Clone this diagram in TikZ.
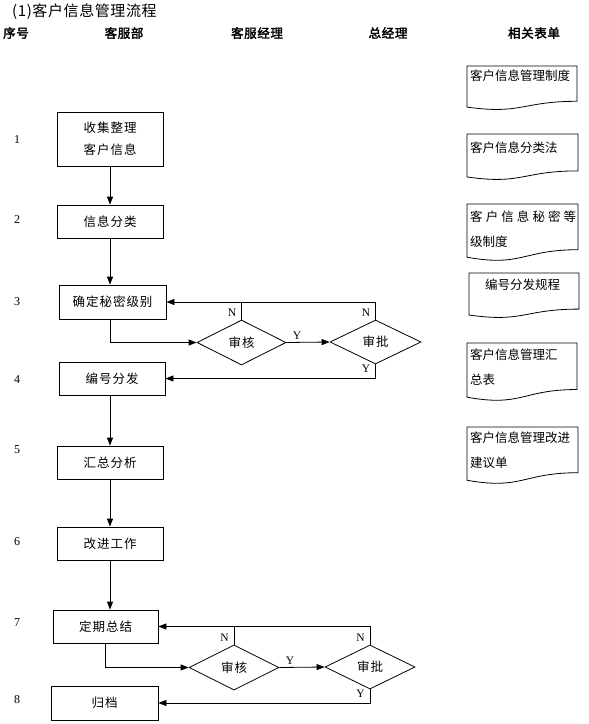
\documentclass[tikz,border=0pt]{standalone}
\usepackage{fontspec}
\setmainfont{Noto Sans CJK SC}
\newfontfamily\hdfont[FakeBold=2.5,LetterSpace=5]{Noto Sans CJK SC}
\newfontfamily\boxfont[LetterSpace=8]{Noto Sans CJK SC}
\newfontfamily\titlefont[LetterSpace=4]{Noto Sans CJK SC}
\newfontfamily\serf{Liberation Serif}
\usetikzlibrary{shapes.geometric,arrows.meta}
\tikzset{
 stepbox/.style={draw, line width=0.8pt, inner sep=0pt, font=\boxfont\fontsize{12.5}{22}\selectfont, align=center},
 dec/.style={draw, diamond, line width=0.8pt, inner sep=0pt, font=\boxfont\fontsize{12.5}{15}\selectfont},
 arr/.style={line width=0.8pt, -{Triangle[length=8pt,width=6pt]}},
 ln/.style={line width=0.8pt},
 yn/.style={font=\serf\fontsize{11.5}{12}\selectfont, inner sep=1pt},
 num/.style={font=\serf\fontsize{12}{12}\selectfont, inner sep=0pt},
 hd/.style={font=\hdfont\fontsize{12.5}{14}\selectfont, inner sep=0pt},
 docln/.style={line width=0.8pt},
 doctext/.style={anchor=west, inner sep=0pt, font=\fontsize{12.5}{25}\selectfont, align=left},
}
\newcommand\docshape[4]{%
 \draw[docln] ({#1},{#2}) -- ({#3},{#2}) -- ({#3},{#2+0.802*#4})
  .. controls ({(#1+#3)/2},{#2+0.802*#4}) and ({(#1+#3)/2},{#2+1.107*#4}) .. ({#1},{#2+0.934*#4}) -- cycle;}
\begin{document}
\begin{tikzpicture}[x=1pt,y=-1pt]
\useasboundingbox (0,0) rectangle (589,724);
% title and headers
\node[anchor=west, inner sep=0pt, font=\titlefont\fontsize{15}{16}\selectfont] (title) at (12,12) {(1)客户信息管理流程};
\node[hd] (h1) at (16,33) {序号};
\node[hd] (h2) at (124,33) {客服部};
\node[hd] (h3) at (257,33) {客服经理};
\node[hd] (h4) at (388,33) {总经理};
\node[hd] (h5) at (534,33) {相关表单};
% row numbers
\node[num] (n1) at (17,140) {1};
\node[num] (n2) at (17,220) {2};
\node[num] (n3) at (17,302) {3};
\node[num] (n4) at (17,380) {4};
\node[num] (n5) at (17,450) {5};
\node[num] (n6) at (17,542) {6};
\node[num] (n7) at (17,623) {7};
\node[num] (n8) at (17,700) {8};
% process boxes
\node[stepbox, minimum width=106pt, minimum height=54pt] (b1) at (110,139) {收集整理\\客户信息};
\node[stepbox, minimum width=106pt, minimum height=33pt] (b2) at (110,221.5) {信息分类};
\node[stepbox, minimum width=107pt, minimum height=34pt] (b3) at (112.5,302) {确定秘密级别};
\node[stepbox, minimum width=106pt, minimum height=33pt] (b4) at (112,378.5) {编号分发};
\node[stepbox, minimum width=106pt, minimum height=33pt] (b5) at (110,462.5) {汇总分析};
\node[stepbox, minimum width=106pt, minimum height=33pt] (b6) at (110,543.5) {改进工作};
\node[stepbox, minimum width=105pt, minimum height=33pt] (b7) at (105.5,626.5) {定期总结};
\node[stepbox, minimum width=107pt, minimum height=34pt] (b8) at (104.5,703) {归档};
% decisions
\node[dec, minimum width=89pt, minimum height=45pt] (d1) at (241.5,342.5) {审核};
\node[dec, minimum width=91pt, minimum height=44pt] (d2) at (375.5,342) {审批};
\node[dec, minimum width=90pt, minimum height=45pt] (d3) at (234,667.5) {审核};
\node[dec, minimum width=90pt, minimum height=44pt] (d4) at (370,667) {审批};
% vertical flow
\draw[arr] (b1.south) -- (b2.north);
\draw[arr] (b2.south) -- (b2.south |- b3.north);
\draw[arr] (b4.south -| b5.north) -- (b5.north);
\draw[arr] (b5.south) -- (b6.north);
\draw[arr] (b6.south) -- (b6.south |- b7.north);
% upper review loop
\draw[arr] (b3.south -| 110,0) |- (d1.west);
\draw[arr] (d1.east) -- (d2.west) node[yn, pos=0, anchor=south west, xshift=5pt, yshift=2pt] {Y};
\draw[ln] (d1.north) -- (d1.north |- b3.east);
\draw[arr] (d2.north) |- (b3.east);
\node[yn, anchor=south east, xshift=-4pt, yshift=2pt] (nl1) at (d1.north) {N};
\node[yn, anchor=south east, xshift=-4pt, yshift=2pt] (nl2) at (d2.north) {N};
\draw[arr] (d2.south) |- (b4.east);
\node[yn, anchor=north east, xshift=-4pt, yshift=1pt] (yl1) at (d2.south) {Y};
% lower review loop
\draw[arr] (b7.south) |- (d3.west);
\draw[arr] (d3.east) -- (d4.west) node[yn, pos=0, anchor=south west, xshift=5pt, yshift=2pt] {Y};
\draw[ln] (d3.north) -- (d3.north |- b7.east);
\draw[arr] (d4.north) |- (b7.east);
\node[yn, anchor=south east, xshift=-4pt, yshift=2pt] (nl3) at (d3.north) {N};
\node[yn, anchor=south east, xshift=-4pt, yshift=2pt] (nl4) at (d4.north) {N};
\draw[arr] (d4.south) |- (b8.east);
\node[yn, anchor=north east, xshift=-4pt, yshift=1pt] (yl2) at (d4.south) {Y};
% related forms
\docshape{467}{66}{577}{44}
\node[doctext] (f1) at (470,76) {客户信息管理制度};
\docshape{467}{134}{578}{46}
\node[doctext] (f2) at (470,148) {客户信息分类法};
\docshape{467}{204}{578}{57}
\node[doctext] (f3) at (470,229.5) {\makebox[106pt][s]{客\hfill 户\hfill 信\hfill 息\hfill 秘\hfill 密\hfill 等}\\级制度};
\docshape{469}{273}{579}{45}
\node[doctext] (f4) at (485,285) {编号分发规程};
\docshape{467}{343}{577}{58}
\node[doctext] (f5) at (470,367.5) {客户信息管理汇\\总表};
\docshape{467}{427}{578}{57}
\node[doctext] (f6) at (470,450) {客户信息管理改进\\建议单};
\end{tikzpicture}
\end{document}
